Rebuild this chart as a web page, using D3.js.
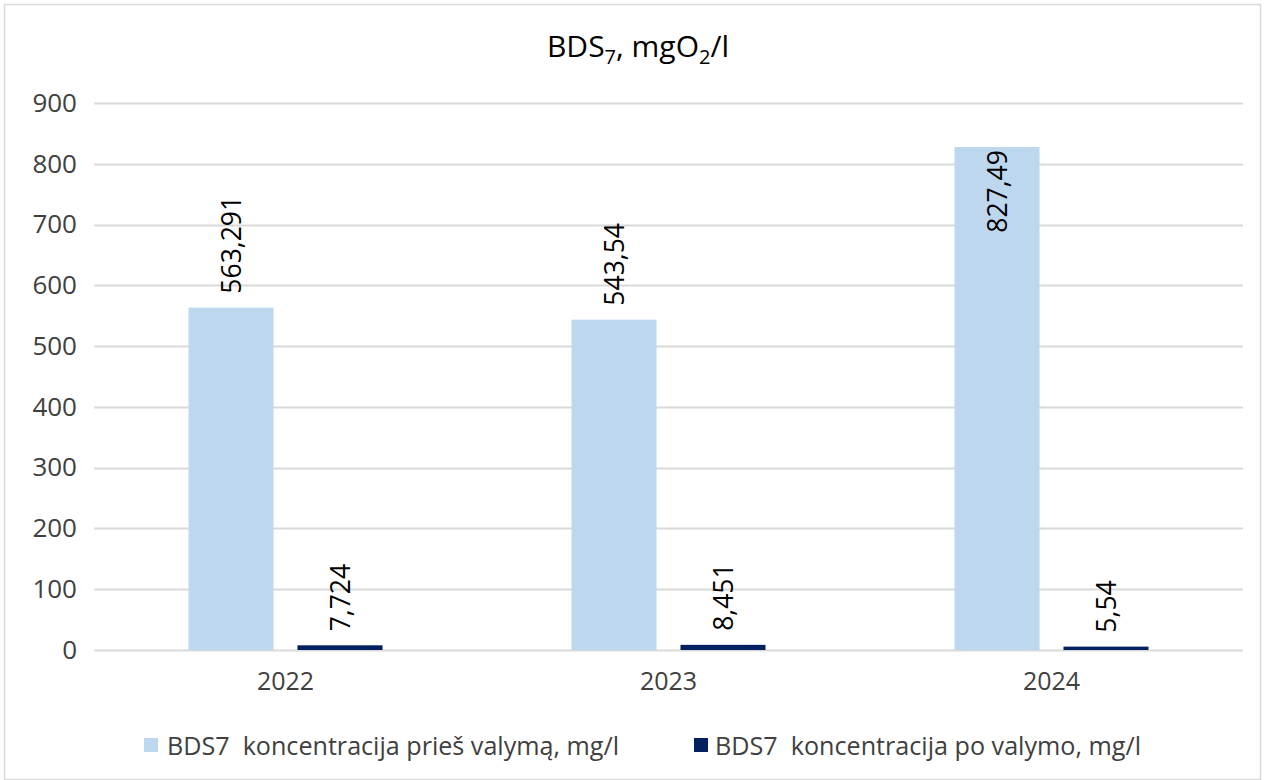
<!DOCTYPE html>
<html>
<head>
<meta charset="utf-8">
<script src="https://cdn.jsdelivr.net/npm/d3@7"></script>
<style>
  body { margin: 0; background: #fff; }
  text { font-family: "Open Sans", "Liberation Sans", sans-serif; }
</style>
</head>
<body>
<script>
var years = ["2022", "2023", "2024"];
var seriesNames = [
    "BDS7  koncentracija prieš valymą, mg/l",
    "BDS7  koncentracija po valymo, mg/l"
];
var beforeVals = [563.291, 543.54, 827.49];
var afterVals = [7.724, 8.451, 5.54];
var beforeLabels = ["563,291", "543,54", "827,49"];
var afterLabels = ["7,724", "8,451", "5,54"];
var yTicks = [0, 100, 200, 300, 400, 500, 600, 700, 800, 900];

var w = 1265, h = 780;
var colors = ["#BDD7EE", "#002060"];

var svg = d3.select("body").append("svg")
    .attr("width", w)
    .attr("height", h);

// outer frame
svg.append("rect")
    .attr("x", 4.5).attr("y", 4.5)
    .attr("width", w - 9).attr("height", h - 5)
    .attr("fill", "#fff")
    .attr("stroke", "#D9D9D9")
    .attr("stroke-width", 1.5);

var x = d3.scaleBand()
    .domain(years)
    .range([94, 1243])
    .paddingInner(0)
    .paddingOuter(0);

var xs = d3.scaleBand()
    .domain([0, 1])
    .range([0, x.bandwidth()])
    .paddingInner(0.22)
    .paddingOuter(0.867);

var y = d3.scaleLinear()
    .domain([0, 900])
    .range([650, 103]);

// gridlines
svg.append("g").selectAll("line")
    .data(yTicks)
    .enter().append("line")
    .attr("x1", 94).attr("x2", 1243)
    .attr("y1", function(d){ return Math.round(y(d)) + 0.5; })
    .attr("y2", function(d){ return Math.round(y(d)) + 0.5; })
    .attr("stroke", "#D9D9D9")
    .attr("stroke-width", 2);

// y axis labels
var yAxis = d3.axisLeft(y).tickValues(yTicks).tickSize(0).tickPadding(17);
var yg = svg.append("g")
    .attr("transform", "translate(94,0)")
    .call(yAxis);
yg.select(".domain").remove();
yg.selectAll("text")
    .attr("fill", "#404040")
    .style("font-size", "26px")
    .style("font-family", "'Open Sans', sans-serif");

// x axis labels
var xAxis = d3.axisBottom(x).tickSize(0).tickPadding(22);
var xg = svg.append("g")
    .attr("transform", "translate(0,650)")
    .call(xAxis);
xg.select(".domain").remove();
xg.selectAll("text")
    .attr("fill", "#404040")
    .style("font-size", "25px")
    .style("font-family", "'Open Sans', sans-serif");

var rows = years.map(function(yr, i){
    return { year: yr, vals: [beforeVals[i], afterVals[i]], labels: [beforeLabels[i], afterLabels[i]] };
});

var groups = svg.selectAll(".grp")
    .data(rows)
    .enter().append("g")
    .attr("class", "grp")
    .attr("transform", function(d){ return "translate(" + x(d.year) + ",0)"; });

groups.selectAll("rect")
    .data(function(d){ return d.vals.map(function(v, s){ return { s: s, v: v }; }); })
    .enter().append("rect")
    .attr("x", function(d){ return xs(d.s); })
    .attr("width", xs.bandwidth())
    .attr("y", function(d){ return y(d.v); })
    .attr("height", function(d){ return y(0) - y(d.v); })
    .attr("fill", function(d){ return colors[d.s]; });

// data labels, rotated
groups.selectAll(".lbl")
    .data(function(d){ return d.vals.map(function(v, s){ return { s: s, v: v, t: d.labels[s] }; }); })
    .enter().append("text")
    .attr("class", "lbl")
    .attr("transform", function(d){
        var cx = xs(d.s) + xs.bandwidth() / 2;
        var inside = d.v > 700;
        var ty = inside ? y(d.v) + 3 : y(d.v) - 14;
        return "translate(" + cx + "," + ty + ") rotate(-90)";
    })
    .attr("text-anchor", function(d){ return d.v > 700 ? "end" : "start"; })
    .attr("dy", "0.36em")
    .attr("fill", "#000")
    .style("font-size", "26.5px")
    .text(function(d){ return d.t; });

// title
var title = svg.append("text")
    .attr("x", 638)
    .attr("y", 57)
    .attr("text-anchor", "middle")
    .attr("fill", "#000")
    .style("font-size", "30px");
title.append("tspan").text("BDS");
title.append("tspan").attr("dy", 7).style("font-size", "20px").text("7");
title.append("tspan").attr("dy", -7).text(", mgO");
title.append("tspan").attr("dy", 7).style("font-size", "20px").text("2");
title.append("tspan").attr("dy", -7).text("/l");

// legend
var legendPos = [
    { mx: 144, tx: 167, tw: 452 },
    { mx: 694, tx: 715, tw: 426 }
];
var legend = svg.selectAll(".leg")
    .data(seriesNames)
    .enter().append("g")
    .attr("class", "leg");
legend.append("rect")
    .attr("x", function(d, i){ return legendPos[i].mx; })
    .attr("y", 738)
    .attr("width", 14).attr("height", 14)
    .attr("fill", function(d, i){ return colors[i]; });
legend.append("text")
    .attr("x", function(d, i){ return legendPos[i].tx; })
    .attr("y", 755)
    .attr("textLength", function(d, i){ return legendPos[i].tw; })
    .attr("lengthAdjust", "spacingAndGlyphs")
    .attr("fill", "#404040")
    .style("font-size", "25px")
    .style("white-space", "pre")
    .text(function(d){ return d; });
</script>
</body>
</html>
